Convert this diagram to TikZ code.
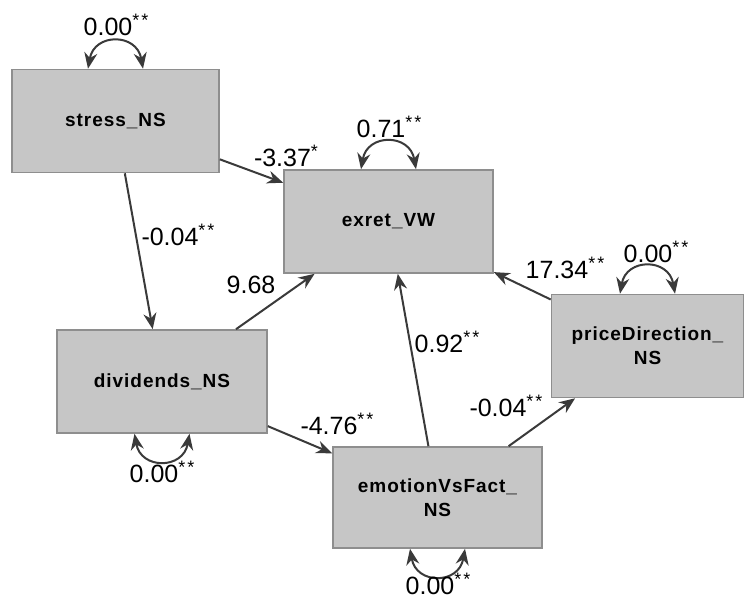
\documentclass[tikz,border=0pt]{standalone}
\usepackage{fontspec}
\setmainfont{Liberation Sans}
\newfontfamily\varfont[LetterSpace=5]{Liberation Sans}
\usetikzlibrary{arrows.meta}
\definecolor{boxgray}{HTML}{C6C6C6}
\definecolor{edgegray}{HTML}{8E8E8E}
\definecolor{linegray}{HTML}{3A3A3A}
\newcommand\sig[1]{\raisebox{0.38em}{\fontsize{18}{18}\selectfont #1}}

\begin{document}
\begin{tikzpicture}[x=1pt,y=1pt,
  var/.style={draw=edgegray,fill=boxgray,line width=1.6pt,minimum width=207pt,minimum height=103pt,
    inner sep=0pt,align=center,font=\varfont\fontsize{19}{24}\selectfont\bfseries},
  regr/.style={draw=linegray,line width=2pt,-{Stealth[length=16pt,width=13pt]}},
  covar/.style={draw=linegray,line width=2pt,{Stealth[length=16pt,width=13pt]}-{Stealth[length=16pt,width=13pt]},looseness=1.7},
  coef/.style={font=\fontsize{25}{29}\selectfont,inner sep=0pt}]
\useasboundingbox (0,0) rectangle (746,597);

\node[var] (stress) at (115.5,476) {stress\_NS};
\node[var,minimum width=209pt] (exret) at (388.5,375.5) {exret\_VW};
\node[var,minimum width=192pt] (price) at (647.5,251) {priceDirection\_\\NS};
\node[var,minimum width=210pt] (divid) at (162,215.5) {dividends\_NS};
\node[var,minimum width=209pt,minimum height=101pt] (emotion) at (437.5,99.5) {emotionVsFact\_\\NS};

\path[regr] (stress) -- (exret);
\path[regr] (stress) -- (divid);
\path[regr] (divid) -- (exret);
\path[regr] (emotion) -- (exret);
\path[regr] (price) -- (exret);
\path[regr] (divid) -- (emotion);
\path[regr] (emotion) -- (price);

\path[covar] ([xshift=-27.5pt]stress.north) to[out=80,in=100] ([xshift=27.5pt]stress.north);
\path[covar] ([xshift=-27.5pt]exret.north) to[out=80,in=100] ([xshift=27.5pt]exret.north);
\path[covar] ([xshift=-27.5pt]price.north) to[out=80,in=100] ([xshift=27.5pt]price.north);
\path[covar] ([xshift=-27.5pt]divid.south) to[out=-80,in=-100] ([xshift=27.5pt]divid.south);
\path[covar] ([xshift=-27.5pt]emotion.south) to[out=-80,in=-100] ([xshift=27.5pt]emotion.south);

\node[coef] (vstress) at (116,572) {0.00\sig{*\hspace{2pt}*}};
\node[coef] (vexret) at (389,470) {0.71\sig{*\hspace{2pt}*}};
\node[coef] (vprice) at (656,345) {0.00\sig{*\hspace{2pt}*}};
\node[coef] (vdivid) at (162,125) {0.00\sig{*\hspace{2pt}*}};
\node[coef] (vemotion) at (438,13) {0.00\sig{*\hspace{2pt}*}};

\node[coef] (bse) at (286,441) {-3.37\sig{*}};
\node[coef] (bsd) at (178,362) {-0.04\sig{*\hspace{2pt}*}};
\node[coef] (bde) at (251,312) {9.68};
\node[coef] (bee) at (447,255) {0.92\sig{*\hspace{2pt}*}};
\node[coef] (bpe) at (565,329) {17.34\sig{*\hspace{2pt}*}};
\node[coef] (bdm) at (337,173) {-4.76\sig{*\hspace{2pt}*}};
\node[coef] (bmp) at (506,191) {-0.04\sig{*\hspace{2pt}*}};
\end{tikzpicture}
\end{document}
